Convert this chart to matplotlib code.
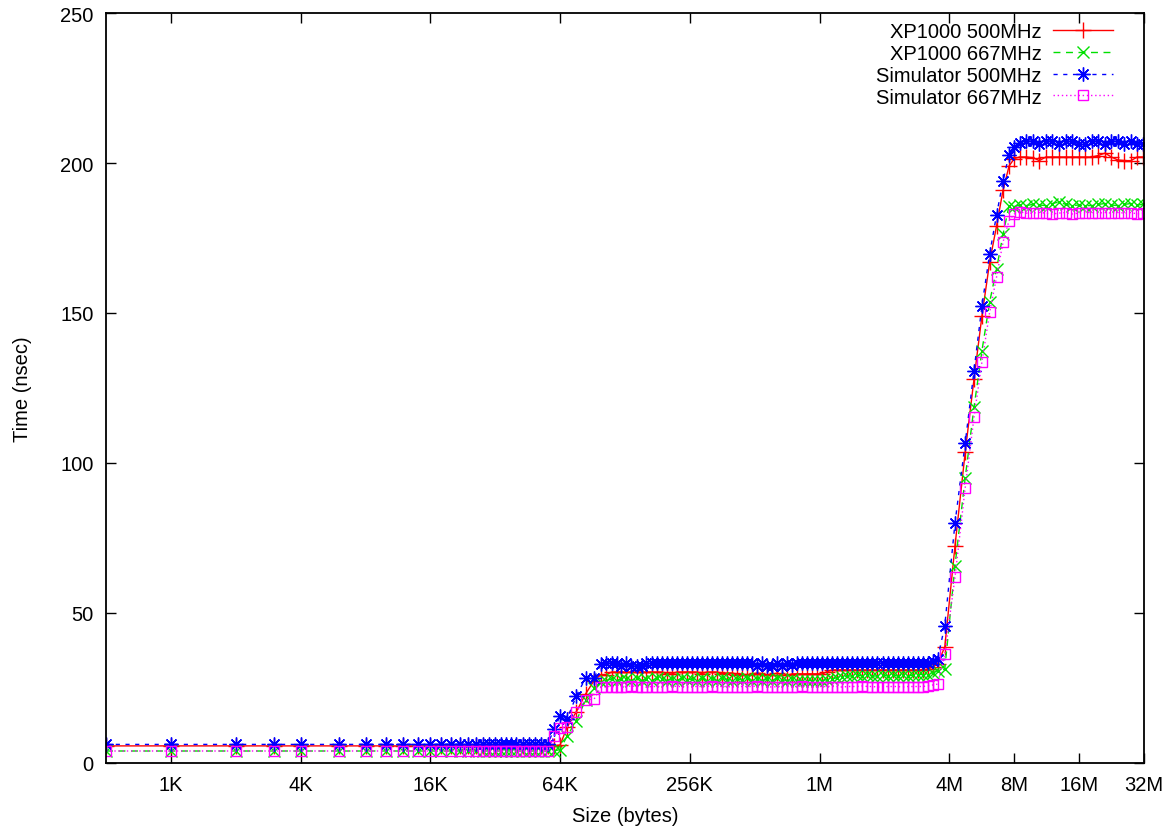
import matplotlib
matplotlib.use("Agg")
import matplotlib.pyplot as plt
from matplotlib.ticker import FixedLocator, NullLocator

plt.rcParams["font.family"] = ["Liberation Sans", "DejaVu Sans"]

# sizes in KB
size_kb = [
    0.5, 1, 2, 3, 4, 6, 8, 10, 12, 14, 16, 18, 20, 22, 24, 26, 28, 30, 32, 34,
    36, 38, 40, 43, 46, 49, 52, 56,
    60, 64, 69, 76, 84, 92, 99,
    105, 111, 117, 123, 130, 137, 145, 153, 161, 170, 180, 190, 200, 211, 223,
    235, 248, 262, 276, 291, 307, 324, 342, 361, 381, 402, 424, 447, 472, 498,
    525, 554, 585, 617, 651, 687, 725, 765, 807, 851, 898, 947, 999, 1054, 1112,
    1173, 1238, 1306, 1378, 1454, 1534, 1618, 1707, 1801, 1900, 2005, 2115,
    2231, 2354, 2484, 2620, 2764, 2916, 3077, 3246, 3425, 3613,
    3900, 4350, 4850, 5330, 5800, 6300, 6780, 7270, 7750, 8200, 8700, 9300,
    10000, 10700, 11500, 12300, 13200, 14200, 15200, 16300, 17500, 18800,
    20100, 21600, 23100, 24800, 26600, 28500, 30500, 32500,
]

xp500 = [
    5.7, 5.7, 5.7, 5.7, 5.7, 5.7, 5.7, 5.7, 5.7, 5.7, 5.7, 5.7, 5.7, 5.8, 5.7,
    5.7, 5.7, 5.7, 5.7, 5.7, 5.7, 5.7, 5.7, 5.7, 5.7, 5.7, 5.7, 5.8,
    5.8, 6.0, 12.0, 17.0, 23.0, 27.5, 29.5,
    29.5, 30.3, 30.3, 30.3, 30.3, 30.3, 30.3, 30.3, 30.3, 30.3, 30.3, 30.3,
    29.7, 29.7, 30.3, 30.3, 30.3, 30.3, 30.3, 29.8, 30.3, 30.3, 30.3, 29.7,
    30.0, 30.0, 29.5, 29.7, 29.3, 29.7, 30.0, 29.8, 29.3, 29.5, 30.0, 29.3,
    29.3, 29.7, 29.7, 29.7, 29.7, 29.7, 29.7, 29.7, 30.5, 31.0, 31.0, 31.0,
    31.0, 31.0, 31.0, 31.0, 31.0, 31.0, 31.0, 31.0, 31.0, 31.0, 31.0, 31.0,
    31.0, 31.0, 31.0, 31.0, 31.3, 32.0, 33.0,
    38.7, 72.4, 103.6, 128.0, 149.0, 167.0, 179.0, 191.0, 199.0, 201.5, 202.0,
    202.0, 201.8, 200.8, 202.0, 202.0, 202.0, 202.0, 202.0, 202.0, 202.0,
    202.0, 202.5, 203.3, 202.0, 201.0, 200.8, 200.8, 202.0, 202.0,
]

xp667 = [
    4.0, 4.0, 4.0, 4.0, 4.0, 4.0, 4.0, 4.0, 4.0, 4.0, 4.0, 4.0, 4.0, 4.0, 4.0,
    4.0, 4.0, 4.0, 4.0, 4.0, 4.0, 4.0, 4.0, 4.0, 4.0, 4.0, 4.0, 4.0,
    4.0, 4.5, 9.0, 14.0, 21.0, 25.0, 27.0,
    27.5, 28.0, 27.5, 28.0, 28.0, 27.5, 28.2, 27.5, 28.0, 27.5, 28.2, 28.0,
    27.5, 28.0, 27.5, 28.2, 27.7, 28.0, 27.5, 28.2, 27.5, 28.0, 27.5, 28.2,
    27.8, 27.5, 28.0, 27.7, 28.2, 27.5, 28.0, 27.5, 28.0, 27.5, 28.2, 27.7,
    27.5, 28.0, 27.5, 27.5, 27.5, 27.5, 27.5, 27.5, 27.8, 28.0, 28.5, 28.8,
    29.0, 29.0, 29.3, 29.0, 29.3, 29.0, 29.0, 29.3, 29.0, 29.3, 29.0, 29.3,
    29.0, 29.3, 29.5, 29.5, 29.5, 30.0, 30.8,
    31.3, 65.8, 95.0, 118.6, 137.4, 153.7, 164.7, 176.3, 185.8, 185.5, 186.0,
    185.8, 186.2, 186.0, 185.8, 186.5, 187.0, 186.2, 185.8, 186.0, 185.8,
    185.8, 186.2, 186.5, 186.0, 185.8, 186.2, 186.5, 186.0, 186.2,
]

sim500 = [
    6.2, 6.2, 6.2, 6.2, 6.2, 6.2, 6.2, 6.2, 6.2, 6.2, 6.2, 6.2, 6.2, 6.2, 6.2,
    6.2, 6.2, 6.2, 6.2, 6.2, 6.2, 6.2, 6.2, 6.2, 6.2, 6.2, 6.2, 6.2,
    11.3, 15.7, 14.7, 22.3, 28.3, 28.3, 33.0,
    33.3, 33.3, 33.3, 32.5, 33.3, 32.3, 32.3, 32.3, 33.3, 33.3, 33.3, 33.3,
    33.3, 33.3, 33.3, 33.3, 33.3, 33.3, 33.3, 33.3, 33.3, 33.3, 33.3, 33.3,
    33.3, 33.3, 33.3, 33.3, 33.3, 33.3, 32.5, 33.3, 32.3, 32.3, 33.3, 32.3,
    33.3, 32.8, 33.3, 33.3, 33.3, 33.3, 33.3, 33.3, 33.3, 33.3, 33.3, 33.3,
    33.3, 33.3, 33.3, 33.3, 33.3, 33.3, 33.3, 33.3, 33.3, 33.3, 33.3, 33.3,
    33.3, 33.3, 33.3, 33.3, 33.5, 34.0, 34.7,
    45.8, 80.0, 106.6, 130.8, 152.4, 169.7, 182.7, 194.1, 202.8, 205.5, 206.7,
    207.3, 207.3, 206.3, 207.3, 207.3, 206.5, 207.3, 207.3, 206.3, 206.3,
    207.3, 207.3, 206.5, 207.3, 207.3, 206.3, 207.3, 206.5, 206.3,
]

sim667 = [
    4.0, 4.0, 4.0, 4.0, 4.0, 4.0, 4.0, 4.0, 4.0, 4.0, 4.0, 4.0, 4.0, 4.0, 4.0,
    4.0, 4.0, 4.0, 4.0, 4.0, 4.0, 4.0, 4.0, 4.0, 4.0, 4.0, 4.0, 4.0,
    9.0, 11.7, 12.0, 17.0, 21.0, 21.3, 25.3,
    25.5, 25.5, 25.3, 25.5, 25.5, 25.7, 25.5, 25.5, 25.3, 25.5, 25.5, 25.5,
    25.5, 25.7, 25.5, 25.5, 25.3, 25.5, 25.5, 25.5, 25.5, 25.7, 25.5, 25.5,
    25.5, 25.3, 25.5, 25.5, 25.5, 25.5, 25.7, 25.5, 25.5, 25.3, 25.5, 25.5,
    25.5, 25.5, 25.5, 25.7, 25.5, 25.3, 25.5, 25.5, 25.5, 25.5, 25.5, 25.3,
    25.5, 25.5, 25.5, 25.7, 25.5, 25.5, 25.3, 25.5, 25.5, 25.5, 25.5, 25.3,
    25.5, 25.5, 25.5, 25.5, 25.7, 26.0, 26.3,
    36.3, 62.0, 91.7, 115.3, 133.7, 150.3, 162.0, 173.7, 180.8, 183.0, 183.7,
    183.3, 183.3, 183.5, 183.3, 183.0, 183.3, 183.5, 183.0, 183.3, 183.5,
    183.5, 183.3, 183.5, 183.3, 183.5, 183.3, 183.5, 183.0, 183.3,
]

tick_kb = [1, 4, 16, 64, 256, 1024, 4096, 8192, 16384, 32768]
tick_labels = ["1K", "4K", "16K", "64K", "256K", "1M", "4M", "8M", "16M", "32M"]

fs = 14.5

fig = plt.figure(figsize=(11.7, 8.29), dpi=100)
ax = fig.add_axes([106 / 1170, 1 - 764 / 829, (1144 - 106) / 1170, (764 - 14) / 829])

ax.plot(size_kb, xp500, color="#ff0000", lw=1.0, ls="-", marker="+",
        ms=11, mew=1.0, label="XP1000 500MHz")
ax.plot(size_kb, xp667, color="#00e000", lw=1.0, ls=(0, (5, 4)), marker="x",
        ms=8, mew=1.0, label="XP1000 667MHz")
ax.plot(size_kb, sim500, color="#0000ff", lw=1.0, ls=(0, (3, 4)),
        marker=(8, 2, 0), ms=10, mew=1.0, label="Simulator 500MHz")
ax.plot(size_kb, sim667, color="#ff00ff", lw=1.0, ls=(0, (1, 2)), marker="s",
        ms=7.5, mew=1.0, mfc="none", label="Simulator 667MHz")

ax.set_xscale("log", base=2)
ax.set_xlim(0.5, 32768)
ax.set_ylim(0, 250)
ax.xaxis.set_major_locator(FixedLocator(tick_kb))
ax.xaxis.set_minor_locator(NullLocator())
ax.set_xticklabels(tick_labels)
ax.set_yticks([0, 50, 100, 150, 200, 250])

ax.tick_params(direction="in", length=7, width=1, top=True, right=True,
               labelsize=fs, pad=9)
for sp in ax.spines.values():
    sp.set_linewidth(1.3)

ax.set_xlabel("Size (bytes)", fontsize=fs, labelpad=8)
ax.set_ylabel("Time (nsec)", fontsize=fs, labelpad=20)

ax.legend(loc="upper right", bbox_to_anchor=(0.982, 1.004), frameon=False,
          markerfirst=False, fontsize=fs, handlelength=3.0,
          labelspacing=0.14, handletextpad=0.55, borderaxespad=0.2)

fig.savefig("out.png", dpi=100)
